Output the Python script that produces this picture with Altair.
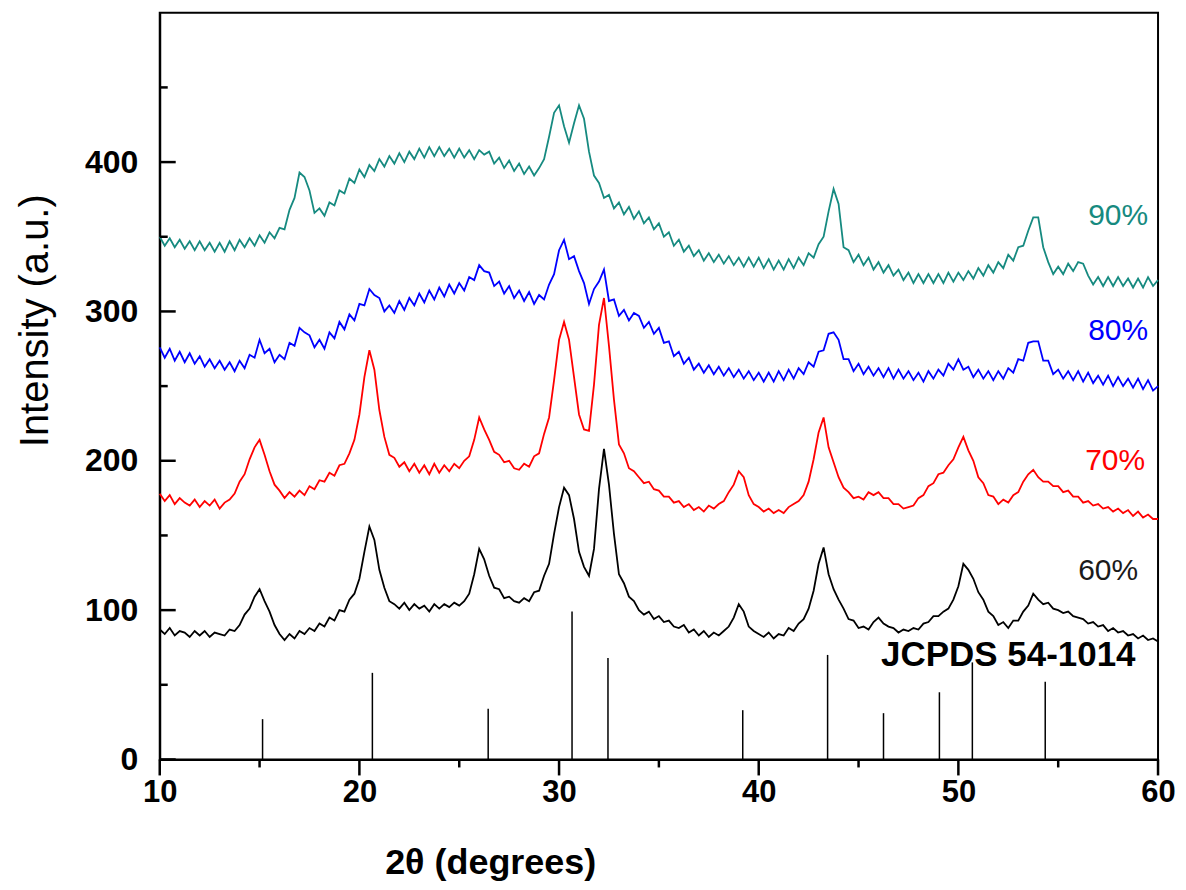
import altair as alt
import pandas as pd

# 2-theta sampling grid (degrees)
two_theta = [round(10 + 0.25 * i, 2) for i in range(201)]

# intensities (a.u.), one value per grid point
y60 = [
    87, 84, 88, 83, 86, 85, 82, 86,
    83, 86, 82, 85, 84, 83, 87, 86,
    90, 97, 101, 109, 114, 106, 99, 90,
    84, 80, 84, 81, 86, 84, 88, 86,
    91, 89, 95, 93, 100, 99, 107, 111,
    121, 139, 156, 147, 127, 115, 106, 104,
    101, 105, 100, 104, 101, 103, 99, 104,
    101, 104, 102, 105, 103, 106, 111, 124,
    141, 134, 123, 115, 114, 108, 109, 106,
    105, 108, 106, 112, 113, 123, 131, 151,
    169, 182, 177, 161, 139, 129, 123, 141,
    181, 208, 184, 151, 124, 118, 109, 106,
    100, 97, 99, 94, 96, 92, 93, 89,
    88, 90, 85, 87, 83, 86, 82, 85,
    83, 86, 89, 95, 104, 99, 89, 86,
    84, 82, 85, 81, 84, 83, 88, 86,
    91, 94, 101, 113, 131, 142, 124, 114,
    107, 101, 94, 93, 88, 89, 87, 92,
    95, 91, 89, 88, 85, 87, 86, 88,
    87, 91, 92, 96, 96, 99, 101, 107,
    116, 131, 127, 121, 112, 107, 99, 96,
    90, 92, 88, 93, 93, 99, 103, 111,
    107, 104, 105, 101, 100, 98, 99, 96,
    95, 94, 91, 92, 89, 90, 86, 88,
    85, 86, 83, 84, 81, 83, 80, 81,
    79,
]

y70 = [
    178, 173, 177, 171, 175, 172, 170, 174,
    169, 173, 170, 174, 168, 172, 174, 178,
    186, 191, 201, 209, 214, 204, 193, 184,
    180, 175, 179, 176, 180, 177, 183, 181,
    187, 186, 192, 190, 197, 198, 205, 214,
    231, 256, 274, 261, 234, 216, 204, 202,
    196, 199, 193, 198, 192, 197, 191, 198,
    192, 197, 193, 198, 195, 200, 203, 214,
    229, 221, 214, 206, 204, 199, 200, 195,
    194, 198, 196, 203, 205, 218, 229, 254,
    281, 293, 281, 256, 231, 221, 220, 251,
    291, 309, 277, 241, 211, 205, 195, 193,
    189, 185, 186, 181, 180, 176, 176, 172,
    173, 169, 171, 167, 169, 166, 170, 168,
    171, 173, 179, 184, 193, 189, 177, 171,
    169, 166, 168, 165, 167, 165, 169, 171,
    173, 177, 186, 201, 219, 229, 209, 199,
    189, 182, 179, 175, 176, 174, 179, 177,
    179, 175, 175, 171, 171, 168, 169, 170,
    175, 177, 183, 185, 191, 192, 197, 201,
    209, 216, 207, 200, 189, 185, 177, 176,
    171, 174, 172, 177, 179, 186, 191, 194,
    189, 186, 186, 183, 183, 179, 180, 176,
    176, 172, 173, 170, 171, 168, 169, 166,
    168, 165, 167, 163, 166, 162, 164, 161,
    161,
]

y80 = [
    276, 269, 275, 267, 273, 266, 272, 265,
    270, 263, 268, 262, 267, 261, 266, 260,
    267, 262, 271, 269, 281, 272, 275, 266,
    271, 268, 279, 277, 289, 286, 284, 276,
    281, 275, 286, 282, 293, 288, 298, 294,
    305, 304, 315, 311, 309, 300, 304, 299,
    307, 301, 309, 304, 312, 306, 314, 308,
    316, 310, 318, 312, 319, 314, 323, 321,
    331, 327, 326, 317, 320, 312, 317, 309,
    314, 307, 313, 305, 311, 308, 318, 325,
    341, 348, 335, 337, 327, 319, 305, 315,
    320, 328, 307, 308, 297, 301, 294, 299,
    297, 289, 293, 285, 289, 279, 280, 270,
    273, 265, 269, 261, 265, 259, 264, 258,
    263, 257, 262, 256, 261, 255, 260, 254,
    259, 253, 259, 253, 260, 254, 261, 255,
    262, 258, 266, 263, 273, 274, 285, 286,
    281, 268, 268, 260, 265, 258, 263, 257,
    262, 256, 262, 255, 261, 255, 260, 254,
    259, 253, 260, 255, 261, 257, 265, 261,
    268, 261, 263, 256, 261, 255, 260, 254,
    260, 255, 262, 259, 268, 267, 279, 280,
    280, 267, 267, 258, 261, 255, 260, 254,
    260, 253, 259, 252, 257, 251, 257, 250,
    256, 250, 255, 249, 255, 248, 254, 247,
    250,
]

y90 = [
    350, 344, 349, 343, 348, 342, 347, 341,
    347, 341, 346, 340, 346, 340, 347, 341,
    348, 343, 349, 344, 351, 346, 353, 349,
    356, 355, 368, 376, 393, 390, 381, 366,
    369, 364, 373, 371, 381, 379, 389, 386,
    395, 390, 398, 394, 402, 397, 404, 399,
    406, 400, 407, 402, 409, 403, 410, 404,
    410, 404, 409, 403, 409, 403, 408, 402,
    408, 405, 407, 399, 403, 396, 401, 394,
    399, 392, 397, 391, 396, 402, 417, 433,
    438, 424, 413, 426, 438, 429, 407, 391,
    386, 376, 378, 369, 373, 365, 370, 362,
    367, 359, 363, 355, 359, 350, 353, 344,
    348, 340, 344, 337, 341, 334, 339, 333,
    338, 332, 337, 331, 336, 330, 336, 330,
    336, 329, 335, 328, 334, 328, 335, 329,
    336, 331, 339, 336, 345, 350, 367, 382,
    372, 343, 341, 333, 338, 331, 336, 328,
    333, 326, 331, 324, 328, 321, 326, 319,
    325, 319, 325, 319, 325, 319, 326, 320,
    326, 321, 327, 322, 329, 324, 331, 326,
    333, 329, 338, 334, 343, 344, 354, 363,
    363, 343, 333, 325, 330, 325, 332, 327,
    333, 332, 324, 318, 323, 317, 323, 317,
    323, 317, 322, 316, 322, 316, 323, 317,
    321,
]

# JCPDS 54-1014 reference pattern
jcpds_pos = [15.15, 20.65, 26.45, 30.65, 32.45, 39.2, 43.45, 46.25, 49.05, 50.7, 54.35]
jcpds_int = [27, 58, 34, 99, 68, 33, 70, 31, 45, 65, 52]

# annotations
label_text = ["90%", "80%", "70%", "60%"]
label_x = [58.0, 58.0, 57.85, 57.5]
label_y = [364, 287, 200, 126]
label_color = ["#168a80", "#0000ff", "#ff0000", "#1a1a1a"]

x_major = [10, 20, 30, 40, 50, 60]
x_minor = [15, 25, 35, 45, 55]
y_major = [0, 100, 200, 300, 400]
y_minor = [50, 150, 250, 350, 450]

W, H = 1000, 748
FONT = "Liberation Sans"

xs = alt.Scale(domain=[10, 60], nice=False, zero=False)
ys = alt.Scale(domain=[0, 500], nice=False)

x_axis = alt.Axis(
    values=x_major, format="d", grid=False,
    domainColor="black", domainWidth=2,
    ticks=False, tickSize=0,
    labelFont=FONT, labelFontSize=31, labelFontWeight="bold", labelColor="black",
    labelPadding=18, labelFlush=False, labelOverlap=False,
    title="2θ (degrees)", titleFont=FONT, titleFontSize=36, titleFontWeight="bold",
    titleColor="black", titleX=331, titleY=114, titleBaseline="alphabetic", titleAlign="center",
)
y_axis = alt.Axis(
    values=y_major, format="d", grid=False,
    domainColor="black", domainWidth=2,
    ticks=False, tickSize=0,
    labelFont=FONT, labelFontSize=32, labelFontWeight="bold", labelColor="black",
    labelPadding=22, labelFlush=False, labelOverlap=False,
    title="Intensity (a.u.)", titleFont=FONT, titleFontSize=40, titleFontWeight="normal",
    titleColor="black", titleX=-104, titleY=308, titleAlign="center", titleAngle=-90,
    titleBaseline="bottom",
)

X = lambda f: alt.X(f, type="quantitative", scale=xs, axis=x_axis)
Y = lambda f: alt.Y(f, type="quantitative", scale=ys, axis=y_axis)


def series(values, color):
    df = pd.DataFrame({"t": two_theta, "i": values})
    return alt.Chart(df).mark_line(color=color, strokeWidth=1.8).encode(x=X("t"), y=Y("i"))


lines = [
    series(y90, label_color[0]),
    series(y80, label_color[1]),
    series(y70, label_color[2]),
    series(y60, "black"),
]

sticks = alt.Chart(pd.DataFrame({"t": jcpds_pos, "i": jcpds_int})).mark_rule(
    color="black", strokeWidth=1.5
).encode(x=X("t"), y=Y("i"), y2=alt.datum(0))

labels = alt.Chart(pd.DataFrame({"t": label_x, "i": label_y, "s": label_text, "c": label_color})).mark_text(
    font=FONT, fontSize=30, align="center", baseline="middle"
).encode(x=X("t"), y=Y("i"), text="s:N", color=alt.Color("c:N", scale=None))

jcpds_label = alt.Chart(pd.DataFrame({"t": [52.5], "i": [70], "s": ["JCPDS 54-1014"]})).mark_text(
    font=FONT, fontSize=35, fontWeight="bold", align="center", baseline="middle", color="black"
).encode(x=X("t"), y=Y("i"), text="s:N")


def yticks(vals, length):
    return alt.Chart(pd.DataFrame({"v": vals})).mark_rule(color="black", strokeWidth=2.5).encode(
        y=Y("v"), x=alt.value(0), x2=alt.value(length))


def xticks(vals, length):
    return alt.Chart(pd.DataFrame({"v": vals})).mark_rule(color="black", strokeWidth=2.5).encode(
        x=X("v"), y=alt.value(H), y2=alt.value(H + length))


chart = alt.layer(
    *lines, sticks, labels, jcpds_label,
    yticks(y_major, 16), yticks(y_minor, 8), xticks(x_major, 16), xticks(x_minor, 8),
).properties(
    width=W, height=H,
    autosize=alt.AutoSizeParams(type="none"),
    padding={"left": 152, "top": 4, "right": 20, "bottom": 128},
    background="white",
).configure_view(stroke="black", strokeWidth=2)

chart.save("out.html", embed_options={"renderer": "svg", "actions": False})
